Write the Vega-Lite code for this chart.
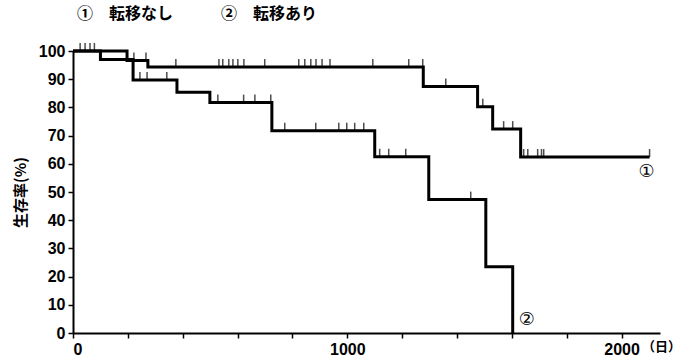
{
  "$schema": "https://vega.github.io/schema/vega-lite/v6.json",
  "autosize": "none",
  "width": 587,
  "height": 282,
  "padding": {"left": 73, "top": 51, "right": 22, "bottom": 25},
  "background": "white",
  "title": {
    "text": "①　転移なし　　　②　転移あり",
    "anchor": "start",
    "frame": "group",
    "font": "Noto Sans CJK JP",
    "fontSize": 16,
    "fontWeight": "bold",
    "color": "black",
    "offset": 21,
    "dx": 4
  },
  "config": {
    "view": {"stroke": null},
    "axis": {
      "grid": false,
      "domainColor": "black",
      "domainWidth": 2,
      "tickColor": "black",
      "tickWidth": 1.5,
      "tickSize": 5,
      "labelFont": "Liberation Sans",
      "labelFontWeight": "bold",
      "labelFontSize": 16,
      "labelColor": "black",
      "titleColor": "black",
      "titleFont": "Noto Sans CJK JP",
      "titleFontWeight": "bold",
      "titleFontSize": 15
    }
  },
  "datasets": {
    "curves": [
      {"group": "1", "day": 0, "surv": 100},
      {"group": "1", "day": 197, "surv": 96.6},
      {"group": "1", "day": 273, "surv": 94.3},
      {"group": "1", "day": 1277, "surv": 87.4},
      {"group": "1", "day": 1475, "surv": 80.2},
      {"group": "1", "day": 1530, "surv": 72.3},
      {"group": "1", "day": 1632, "surv": 62.4},
      {"group": "1", "day": 2102, "surv": 62.4},
      {"group": "2", "day": 0, "surv": 100},
      {"group": "2", "day": 100, "surv": 97},
      {"group": "2", "day": 219, "surv": 89.7},
      {"group": "2", "day": 379, "surv": 85.4},
      {"group": "2", "day": 499, "surv": 81.7},
      {"group": "2", "day": 725, "surv": 71.7},
      {"group": "2", "day": 1100, "surv": 62.5},
      {"group": "2", "day": 1297, "surv": 47.3},
      {"group": "2", "day": 1505, "surv": 23.5},
      {"group": "2", "day": 1603, "surv": 0}
    ],
    "censors": [
      {"group": "1", "day": 26, "surv": 100},
      {"group": "1", "day": 44, "surv": 100},
      {"group": "1", "day": 62, "surv": 100},
      {"group": "1", "day": 78, "surv": 100},
      {"group": "1", "day": 222, "surv": 96.6},
      {"group": "1", "day": 266, "surv": 96.6},
      {"group": "1", "day": 375, "surv": 94.3},
      {"group": "1", "day": 532, "surv": 94.3},
      {"group": "1", "day": 546, "surv": 94.3},
      {"group": "1", "day": 568, "surv": 94.3},
      {"group": "1", "day": 583, "surv": 94.3},
      {"group": "1", "day": 601, "surv": 94.3},
      {"group": "1", "day": 623, "surv": 94.3},
      {"group": "1", "day": 699, "surv": 94.3},
      {"group": "1", "day": 823, "surv": 94.3},
      {"group": "1", "day": 845, "surv": 94.3},
      {"group": "1", "day": 867, "surv": 94.3},
      {"group": "1", "day": 886, "surv": 94.3},
      {"group": "1", "day": 908, "surv": 94.3},
      {"group": "1", "day": 937, "surv": 94.3},
      {"group": "1", "day": 1093, "surv": 94.3},
      {"group": "1", "day": 1224, "surv": 94.3},
      {"group": "1", "day": 1275, "surv": 94.3},
      {"group": "1", "day": 1359, "surv": 87.4},
      {"group": "1", "day": 1494, "surv": 80.2},
      {"group": "1", "day": 1570, "surv": 72.3},
      {"group": "1", "day": 1603, "surv": 72.3},
      {"group": "1", "day": 1643, "surv": 62.4},
      {"group": "1", "day": 1658, "surv": 62.4},
      {"group": "1", "day": 1694, "surv": 62.4},
      {"group": "1", "day": 1708, "surv": 62.4},
      {"group": "1", "day": 1716, "surv": 62.4},
      {"group": "1", "day": 2102, "surv": 62.4},
      {"group": "2", "day": 244, "surv": 89.7},
      {"group": "2", "day": 270, "surv": 89.7},
      {"group": "2", "day": 342, "surv": 89.7},
      {"group": "2", "day": 528, "surv": 81.7},
      {"group": "2", "day": 622, "surv": 81.7},
      {"group": "2", "day": 663, "surv": 81.7},
      {"group": "2", "day": 721, "surv": 81.7},
      {"group": "2", "day": 772, "surv": 71.7},
      {"group": "2", "day": 885, "surv": 71.7},
      {"group": "2", "day": 969, "surv": 71.7},
      {"group": "2", "day": 998, "surv": 71.7},
      {"group": "2", "day": 1027, "surv": 71.7},
      {"group": "2", "day": 1060, "surv": 71.7},
      {"group": "2", "day": 1118, "surv": 62.5},
      {"group": "2", "day": 1151, "surv": 62.5},
      {"group": "2", "day": 1213, "surv": 62.5},
      {"group": "2", "day": 1450, "surv": 47.3}
    ],
    "labels": [
      {"label": "①", "day": 2091, "surv": 57},
      {"label": "②", "day": 1654, "surv": 4.6}
    ]
  },
  "encoding": {
    "x": {
      "field": "day",
      "type": "quantitative",
      "scale": {"domain": [0, 2140], "nice": false},
      "axis": {
        "values": [0, 200, 400, 600, 800, 1000, 1200, 1400, 1600, 1800, 2000],
        "labelExpr": "datum.value % 1000 === 0 ? format(datum.value, 'd') : ''",
        "labelOverlap": false,
        "labelPadding": 3,
        "title": "（日）",
        "titleFontSize": 13,
        "titleX": 588,
        "titleY": 13,
        "titleAlign": "center",
        "titleBaseline": "middle"
      }
    },
    "y": {
      "field": "surv",
      "type": "quantitative",
      "scale": {"domain": [0, 100], "nice": false},
      "axis": {
        "values": [0, 10, 20, 30, 40, 50, 60, 70, 80, 90, 100],
        "tickCount": 11,
        "format": "d",
        "labelOverlap": false,
        "labelFlush": false,
        "labelPadding": 3,
        "title": "生存率(%)",
        "titleX": -53,
        "titleY": 141,
        "titleAngle": -90,
        "titleAlign": "center",
        "titleBaseline": "middle"
      }
    }
  },
  "layer": [
    {
      "data": {"name": "curves"},
      "mark": {"type": "line", "interpolate": "step-after", "color": "black", "strokeWidth": 3},
      "encoding": {
        "detail": {"field": "group", "type": "nominal"}
      }
    },
    {
      "data": {"name": "censors"},
      "mark": {"type": "tick", "orient": "vertical", "size": 8, "thickness": 1.5, "yOffset": -4, "color": "black"}
    },
    {
      "data": {"name": "labels"},
      "mark": {"type": "text", "font": "DejaVu Sans", "fontSize": 18, "color": "black", "align": "center", "baseline": "middle"},
      "encoding": {
        "text": {"field": "label", "type": "nominal"}
      }
    }
  ]
}
